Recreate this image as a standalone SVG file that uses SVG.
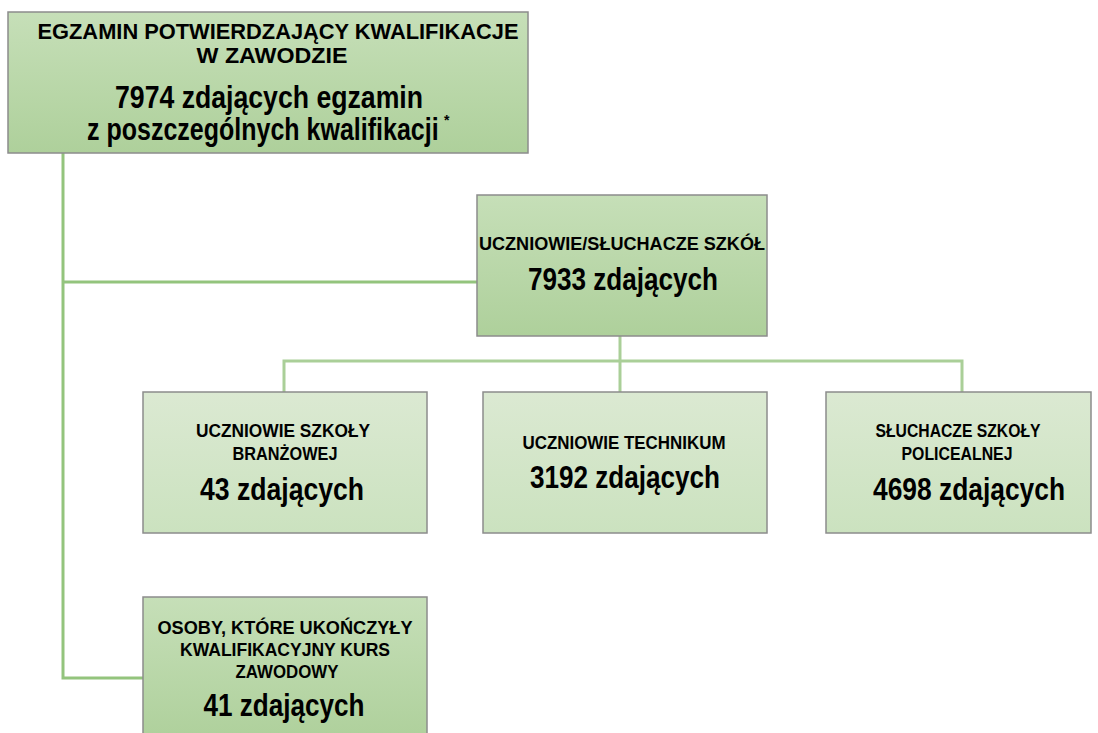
<svg xmlns="http://www.w3.org/2000/svg" width="1098" height="733" viewBox="0 0 1098 733">
<style>
.t{font-family:"Liberation Sans Narrow","Liberation Sans",Arial,sans-serif;font-weight:bold;fill:#000;text-anchor:middle}
.s{font-size:22px}
.m{font-size:19px}
.b{font-size:31px}
.box{stroke:#8c8c8c;stroke-width:1.5}
.dark{fill:url(#gDark)}
.light{fill:url(#gLight)}
.c1{fill:none;stroke:#93c47d;stroke-width:3}
.c2{fill:none;stroke:#aacf98;stroke-width:3}
</style>
<defs>
<linearGradient id="gDark" x1="0" y1="0" x2="0" y2="1">
<stop offset="0" stop-color="#c6dfb8"/>
<stop offset="1" stop-color="#aed09b"/>
</linearGradient>
<linearGradient id="gLight" x1="0" y1="0" x2="0" y2="1">
<stop offset="0" stop-color="#dbe9d2"/>
<stop offset="1" stop-color="#cbe2bf"/>
</linearGradient>
</defs>
<g id="connectors">
<path class="c1" d="M63,153 V678 H143"/>
<path class="c1" d="M63,282 H477"/>
<path class="c2" d="M620,336 V392"/>
<path class="c2" d="M284,392 V361 H962 V392"/>
</g>
<g id="n_root">
<rect class="box dark" x="8" y="12" width="520" height="141"/>
<text class="t s" x="278" y="39" textLength="481" lengthAdjust="spacingAndGlyphs">EGZAMIN POTWIERDZAJĄCY KWALIFIKACJE</text>
<text class="t s" x="272" y="63" textLength="151" lengthAdjust="spacingAndGlyphs">W ZAWODZIE</text>
<text class="t b" x="269" y="108" textLength="308" lengthAdjust="spacingAndGlyphs">7974 zdających egzamin</text>
<text class="t b" style="text-anchor:start" transform="translate(87,140) scale(0.807,1)">z poszczególnych kwalifikacji</text>
<text class="t" style="font-size:14px;text-anchor:start" x="444" y="125">*</text>
</g>
<g id="n_schools">
<rect class="box dark" x="477" y="195" width="290" height="141"/>
<text class="t m" x="622" y="250" textLength="286" lengthAdjust="spacingAndGlyphs">UCZNIOWIE/SŁUCHACZE SZKÓŁ</text>
<text class="t b" x="623" y="290" textLength="190" lengthAdjust="spacingAndGlyphs">7933 zdających</text>
</g>
<g id="n_branzowa">
<rect class="box light" x="143" y="392" width="284" height="141"/>
<text class="t m" x="283" y="437" textLength="174" lengthAdjust="spacingAndGlyphs">UCZNIOWIE SZKOŁY</text>
<text class="t m" x="285" y="460" textLength="105" lengthAdjust="spacingAndGlyphs">BRANŻOWEJ</text>
<text class="t b" x="282" y="500" textLength="164" lengthAdjust="spacingAndGlyphs">43 zdających</text>
</g>
<g id="n_technikum">
<rect class="box light" x="483" y="392" width="284" height="141"/>
<text class="t m" x="624" y="449" textLength="203" lengthAdjust="spacingAndGlyphs">UCZNIOWIE TECHNIKUM</text>
<text class="t b" x="625" y="488" textLength="190" lengthAdjust="spacingAndGlyphs">3192 zdających</text>
</g>
<g id="n_policealna">
<rect class="box light" x="826" y="392" width="265" height="141"/>
<text class="t m" x="958" y="437" textLength="165" lengthAdjust="spacingAndGlyphs">SŁUCHACZE SZKOŁY</text>
<text class="t m" x="957" y="460" textLength="111" lengthAdjust="spacingAndGlyphs">POLICEALNEJ</text>
<text class="t b" x="969" y="500" textLength="192" lengthAdjust="spacingAndGlyphs">4698 zdających</text>
</g>
<g id="n_kurs">
<rect class="box dark" x="143" y="597" width="284" height="145"/>
<text class="t m" x="285" y="634" textLength="255" lengthAdjust="spacingAndGlyphs">OSOBY, KTÓRE UKOŃCZYŁY</text>
<text class="t m" x="285" y="656" textLength="210" lengthAdjust="spacingAndGlyphs">KWALIFIKACYJNY KURS</text>
<text class="t m" x="287" y="678" textLength="103" lengthAdjust="spacingAndGlyphs">ZAWODOWY</text>
<text class="t b" x="284" y="716" textLength="161" lengthAdjust="spacingAndGlyphs">41 zdających</text>
</g>
</svg>
